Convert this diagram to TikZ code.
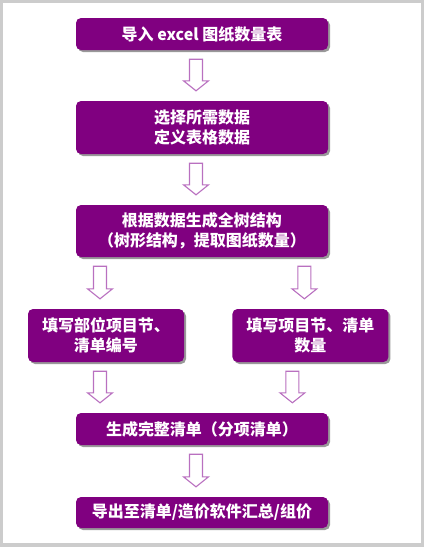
\documentclass[tikz,border=0pt]{standalone}
\usepackage{fontspec}
\setmainfont{Noto Sans CJK SC}
\usepackage{tikz}
\usetikzlibrary{positioning, calc, shadows}
\definecolor{boxpurple}{HTML}{800080}
\definecolor{arrowline}{HTML}{B970C0}
\definecolor{framegray}{HTML}{CCCCCC}

\begin{document}
\begin{tikzpicture}[x=1pt, y=-1pt, node distance=48pt,
    stepbox/.style={fill=boxpurple, rounded corners=5pt, text=white, font=\bfseries\fontsize{16}{20}\selectfont,
        align=center, inner sep=0pt, minimum width=252pt,
        drop shadow={shadow xshift=2pt, shadow yshift=-2pt, fill=black!50, opacity=.8}},
    halfbox/.style={stepbox, minimum width=156pt, minimum height=53pt},
    fatarrow/.style={draw=arrowline, fill=white, line width=1.1pt, line join=miter,
        to path={let \p1=(\tikztostart), \p2=(\tikztotarget) in
            (\x1-6.5pt,\y1-9pt) -- (\x1+6.5pt,\y1-9pt) -- (\x1+6.5pt,\y2+20pt) -- (\x1+12.5pt,\y2+20pt)
            -- (\x1,\y2+10pt) -- (\x1-12.5pt,\y2+20pt) -- (\x1-6.5pt,\y2+20pt) -- cycle}}]
    \fill[framegray] (0,0) rectangle (424,547);
    \fill[white] (3,3) rectangle (421,543);
    \useasboundingbox (0,0) rectangle (424,547);

    \node[stepbox, minimum height=32pt] (import) at (202,34) {导入 excel 图纸数量表};
    \node[stepbox, minimum height=53pt] (select) at (202,127.5) {选择所需数据\\定义表格数据};
    \node[stepbox, minimum height=52pt] (tree) at (202,231) {根据数据生成全树结构\\（树形结构，提取图纸数量）};
    \node[halfbox] (fillL) at (106,335.5) {填写部位项目节、\\清单编号};
    \node[halfbox, right=48pt of fillL] (fillR) {填写项目节、清单\\数量};
    \node[stepbox, minimum height=32pt] (gen) at (202,429) {生成完整清单（分项清单）};
    \node[stepbox, minimum height=31pt] (export) at (202,512.5) {导出至清单/造价软件汇总/组价};

    \draw[fatarrow] ([xshift=-6pt]import.south) to (select.north);
    \draw[fatarrow] ([xshift=-6pt]select.south) to (tree.north);
    \draw[fatarrow] ([xshift=-6pt]fillL.north |- tree.south) to (fillL.north);
    \draw[fatarrow] ([xshift=-6pt]fillR.north |- tree.south) to (fillR.north);
    \draw[fatarrow] ([xshift=-6pt]fillL.south) to (gen.north);
    \draw[fatarrow] ([xshift=-18pt]fillR.south) to (gen.north);
    \draw[fatarrow] ([xshift=-6pt]gen.south) to (export.north);
\end{tikzpicture}
\end{document}
